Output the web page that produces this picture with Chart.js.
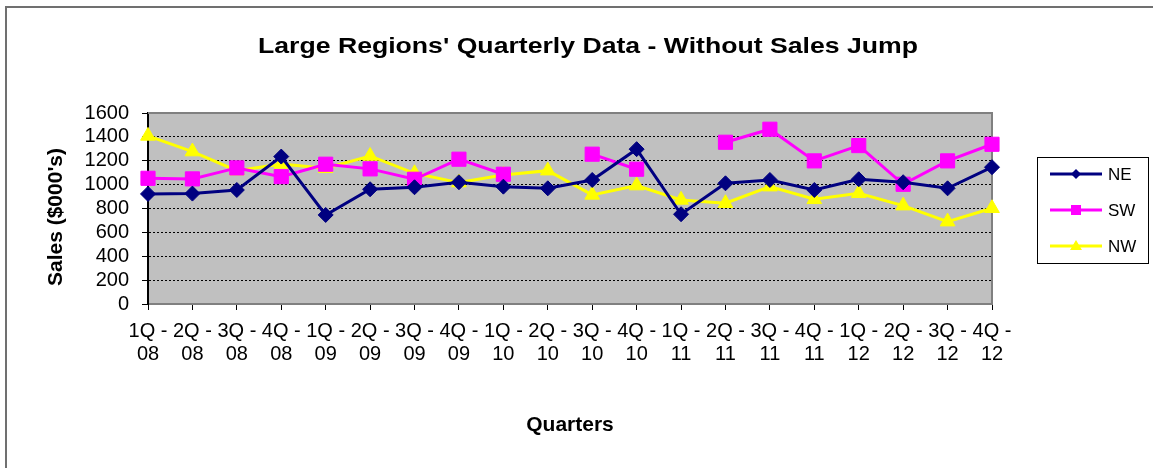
<!DOCTYPE html>
<html>
<head>
<meta charset="utf-8">
<title>Large Regions' Quarterly Data</title>
<script src="https://cdn.jsdelivr.net/npm/chart.js@4.4.1/dist/chart.umd.min.js"></script>
<style>
    html, body { margin: 0; padding: 0; background: #fff; }
    #wrap { width: 1153px; height: 468px; }
</style>
</head>
<body>
<div id="wrap"><canvas id="chart" width="1153" height="468"></canvas></div>
<script>
/* ------------------------------------------------------------
   Data
------------------------------------------------------------ */
const quarters = [
    ["1Q -", "08"], ["2Q -", "08"], ["3Q -", "08"], ["4Q -", "08"],
    ["1Q -", "09"], ["2Q -", "09"], ["3Q -", "09"], ["4Q -", "09"],
    ["1Q -", "10"], ["2Q -", "10"], ["3Q -", "10"], ["4Q -", "10"],
    ["1Q -", "11"], ["2Q -", "11"], ["3Q -", "11"], ["4Q -", "11"],
    ["1Q -", "12"], ["2Q -", "12"], ["3Q -", "12"], ["4Q -", "12"]
];

const neSales = [922, 925, 955, 1235, 746, 961, 978, 1020, 983, 969,
                 1039, 1297, 752, 1011, 1039, 955, 1045, 1020, 969, 1146];
const swSales = [1053, 1048, 1140, 1067, 1171, 1132, 1045, 1213, 1087, null,
                 1255, 1129, null, 1355, 1464, 1199, 1327, 1003, 1199, 1338];
const nwSales = [1408, 1277, 1117, 1173, 1137, 1240, 1095, 1017, 1081, 1117,
                 914, 992, 872, 844, 983, 877, 928, 824, 690, 802];

const seriesNames = ["NE", "SW", "NW"];
const yMin = 0;
const yMax = 1600;
const yStep = 200;

const chartTitle = "Large Regions' Quarterly Data - Without Sales Jump";
const yTitle = "Sales ($000's)";
const xTitle = "Quarters";

/* ------------------------------------------------------------
   Styles
------------------------------------------------------------ */
const NAVY = "#000080";
const MAGENTA = "#FF00FF";
const YELLOW = "#FFFF00";
const PLOT_BG = "#C0C0C0";
const FONT = "Arial, 'Liberation Sans', sans-serif";

/* ------------------------------------------------------------
   Decorations: frame, plot background, titles, legend
------------------------------------------------------------ */
const excelLook = {
    id: "excelLook",
    beforeDraw(chart) {
        const ctx = chart.ctx;
        const a = chart.chartArea;
        ctx.save();
        ctx.fillStyle = "#fff";
        ctx.fillRect(0, 0, chart.width, chart.height);

        // outer frame (right/bottom edges fall outside the picture)
        ctx.strokeStyle = "#707070";
        ctx.lineWidth = 2;
        ctx.strokeRect(6, 7, 1300, 1300);

        // plot area
        ctx.fillStyle = PLOT_BG;
        ctx.fillRect(a.left, a.top, a.right - a.left, a.bottom - a.top);
        ctx.restore();
    },
    beforeDatasetsDraw(chart) {
        const ctx = chart.ctx;
        const a = chart.chartArea;
        ctx.save();
        ctx.strokeStyle = "#808080";
        ctx.lineWidth = 2;
        ctx.beginPath();
        ctx.moveTo(a.left, a.top);
        ctx.lineTo(a.right, a.top);
        ctx.lineTo(a.right, a.bottom);
        ctx.stroke();
        ctx.restore();
    },
    afterDraw(chart) {
        const ctx = chart.ctx;
        ctx.save();
        ctx.fillStyle = "#000";
        ctx.textAlign = "center";
        ctx.textBaseline = "middle";

        // chart title
        ctx.font = "bold 22px " + FONT;
        const w = ctx.measureText(chartTitle).width;
        ctx.save();
        ctx.translate(588, 47);
        ctx.scale(660 / w, 1);
        ctx.fillText(chartTitle, 0, 0);
        ctx.restore();

        // axis titles
        ctx.font = "bold 21px " + FONT;
        ctx.fillText(xTitle, 570, 425);
        ctx.save();
        ctx.translate(56, 217);
        ctx.rotate(-Math.PI / 2);
        ctx.fillText(yTitle, 0, 0);
        ctx.restore();

        // legend
        ctx.strokeStyle = "#000";
        ctx.lineWidth = 1;
        ctx.strokeRect(1037.5, 157.5, 111, 106);
        chart.data.datasets.forEach((ds, i) => {
            const y = 174 + i * 36;
            ctx.strokeStyle = ds.borderColor;
            ctx.lineWidth = 3;
            ctx.beginPath();
            ctx.moveTo(1050, y);
            ctx.lineTo(1102, y);
            ctx.stroke();

            ctx.fillStyle = ds.borderColor;
            ctx.beginPath();
            if (ds.pointStyle === "rectRot") {
                ctx.moveTo(1076, y - 5);
                ctx.lineTo(1081, y);
                ctx.lineTo(1076, y + 5);
                ctx.lineTo(1071, y);
            } else if (ds.pointStyle === "rect") {
                ctx.rect(1071, y - 5, 10, 10);
            } else {
                ctx.moveTo(1076, y - 6);
                ctx.lineTo(1082, y + 4);
                ctx.lineTo(1070, y + 4);
            }
            ctx.closePath();
            ctx.fill();

            ctx.fillStyle = "#000";
            ctx.font = "17px " + FONT;
            ctx.textAlign = "left";
            ctx.fillText(ds.label, 1108, y + 1);
        });
        ctx.restore();
    }
};

/* ------------------------------------------------------------
   Chart
------------------------------------------------------------ */
function makeSeries(label, values, color, style, radius) {
    return {
        label: label,
        data: values,
        borderColor: color,
        backgroundColor: color,
        borderWidth: 3,
        pointStyle: style,
        pointRadius: radius,
        pointHoverRadius: radius,
        pointBackgroundColor: color,
        pointBorderColor: color,
        pointBorderWidth: 1,
        tension: 0,
        spanGaps: false
    };
}

new Chart(document.getElementById("chart"), {
    type: "line",
    data: {
        labels: quarters,
        datasets: [
            makeSeries(seriesNames[0], neSales, NAVY, "rectRot", 7.5),
            makeSeries(seriesNames[1], swSales, MAGENTA, "rect", 10),
            makeSeries(seriesNames[2], nwSales, YELLOW, "triangle", 8.5)
        ]
    },
    options: {
        responsive: false,
        animation: false,
        devicePixelRatio: 1,
        layout: { padding: { top: 113, right: 161, left: 0, bottom: 0 } },
        plugins: {
            legend: { display: false },
            title: { display: false },
            tooltip: { enabled: false }
        },
        scales: {
            x: {
                offset: false,
                afterFit(scale) { scale.height = 164; },
                grid: {
                    drawOnChartArea: false,
                    drawTicks: true,
                    tickLength: 6,
                    tickColor: "#000",
                    tickWidth: 1
                },
                border: { display: true, color: "#808080", width: 2 },
                ticks: {
                    autoSkip: false,
                    maxRotation: 0,
                    minRotation: 0,
                    padding: 10,
                    color: "#000",
                    font: { family: FONT, size: 20, lineHeight: 1.15 }
                }
            },
            y: {
                min: yMin,
                max: yMax,
                afterFit(scale) { scale.width = 148; },
                grid: {
                    color: "#000",
                    lineWidth: 1,
                    drawTicks: true,
                    tickLength: 6,
                    tickColor: "#000",
                    tickWidth: 1
                },
                border: { display: true, color: "#000", width: 2, dash: [2, 2] },
                ticks: {
                    stepSize: yStep,
                    autoSkip: false,
                    padding: 13,
                    color: "#000",
                    font: { family: FONT, size: 20, lineHeight: 1 },
                    callback: (value) => String(value)
                }
            }
        }
    },
    plugins: [excelLook]
});
</script>
</body>
</html>
